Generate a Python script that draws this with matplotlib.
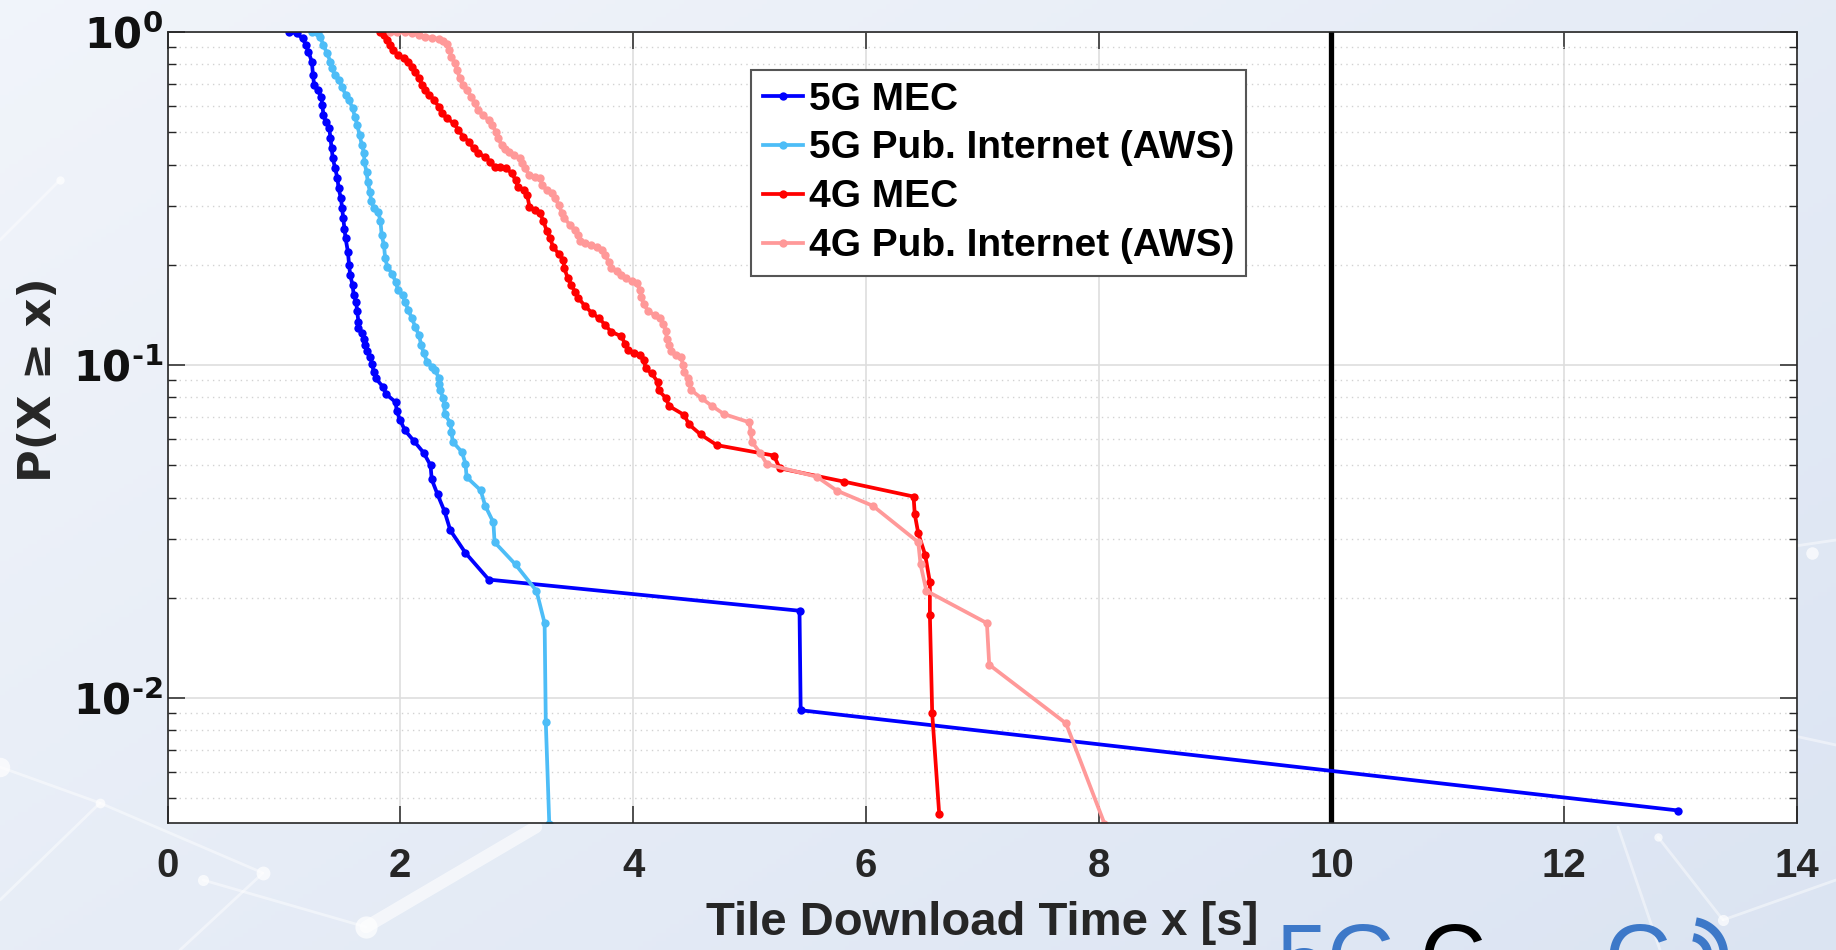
import numpy as np
import matplotlib
matplotlib.use("Agg")
import matplotlib.pyplot as plt
from matplotlib.ticker import FixedLocator, LogLocator, NullFormatter

# CCDF points: x = tile download time [s], p = P(X >= x)
MEC_5G_X = [1.04, 1.11, 1.16, 1.19, 1.21, 1.24, 1.25, 1.26, 1.29, 1.32, 1.33, 1.34,
            1.36, 1.39, 1.40, 1.41, 1.42, 1.44, 1.46, 1.47, 1.49, 1.50, 1.51, 1.52,
            1.53, 1.55, 1.56, 1.57, 1.59, 1.60, 1.62, 1.63, 1.64, 1.64, 1.67, 1.69,
            1.70, 1.71, 1.74, 1.76, 1.77, 1.79, 1.85, 1.88, 1.96, 1.97, 2.00, 2.04,
            2.12, 2.20, 2.26, 2.27, 2.32, 2.38, 2.43, 2.56, 2.76, 5.43, 5.44, 12.98]
MEC_5G_P = [1.0, 0.991, 0.957, 0.914, 0.873, 0.815, 0.743, 0.693, 0.670, 0.640, 0.604, 0.563,
            0.538, 0.514, 0.480, 0.448, 0.418, 0.390, 0.364, 0.339, 0.317, 0.296, 0.276, 0.257,
            0.240, 0.219, 0.200, 0.186, 0.174, 0.162, 0.155, 0.145, 0.135, 0.129, 0.125, 0.120,
            0.115, 0.110, 0.106, 0.1005, 0.0955, 0.0912, 0.0861, 0.0817, 0.0774, 0.0727, 0.0682,
            0.0637, 0.0590, 0.0546, 0.0500, 0.0454, 0.0409, 0.0364, 0.0319, 0.0273, 0.0227,
            0.0183, 0.0092, 0.0046]

PUB_5G_X = [1.24, 1.29, 1.31, 1.34, 1.37, 1.40, 1.41, 1.44, 1.47, 1.50, 1.53, 1.56,
            1.59, 1.61, 1.63, 1.65, 1.67, 1.69, 1.69, 1.71, 1.72, 1.74, 1.75, 1.77,
            1.81, 1.83, 1.84, 1.86, 1.87, 1.89, 1.93, 1.96, 1.98, 2.02, 2.04, 2.07,
            2.10, 2.13, 2.16, 2.18, 2.20, 2.23, 2.27, 2.30, 2.33, 2.33, 2.34, 2.37,
            2.38, 2.38, 2.43, 2.44, 2.45, 2.53, 2.56, 2.57, 2.69, 2.73, 2.80, 2.81,
            2.99, 3.17, 3.24, 3.25, 3.28]
PUB_5G_P = [1.0, 0.991, 0.968, 0.914, 0.863, 0.815, 0.778, 0.743, 0.718, 0.686, 0.647, 0.625,
            0.590, 0.557, 0.526, 0.491, 0.458, 0.432, 0.408, 0.381, 0.355, 0.331, 0.310, 0.297,
            0.289, 0.270, 0.246, 0.229, 0.209, 0.197, 0.188, 0.178, 0.168, 0.162, 0.155, 0.146,
            0.138, 0.130, 0.123, 0.115, 0.109, 0.1025, 0.0990, 0.0968, 0.0914, 0.0875, 0.0839,
            0.0798, 0.0757, 0.0714, 0.0671, 0.0630, 0.0589, 0.0548, 0.0506, 0.0461, 0.0421,
            0.0378, 0.0337, 0.0294, 0.0252, 0.0210, 0.0168, 0.0085, 0.0042]

MEC_4G_X = [1.83, 1.86, 1.89, 1.91, 1.94, 1.98, 2.03, 2.07, 2.10, 2.13, 2.16, 2.19,
            2.21, 2.25, 2.29, 2.33, 2.36, 2.40, 2.46, 2.50, 2.54, 2.59, 2.63, 2.67,
            2.73, 2.77, 2.81, 2.86, 2.91, 2.96, 2.99, 3.01, 3.06, 3.09, 3.11, 3.16,
            3.20, 3.23, 3.26, 3.29, 3.31, 3.36, 3.40, 3.41, 3.44, 3.47, 3.50, 3.53,
            3.59, 3.65, 3.71, 3.76, 3.81, 3.90, 3.93, 3.96, 4.01, 4.06, 4.09, 4.11,
            4.16, 4.21, 4.22, 4.28, 4.31, 4.44, 4.48, 4.58, 4.72, 5.21, 5.26, 5.81,
            6.41, 6.42, 6.45, 6.51, 6.55, 6.55, 6.57, 6.63]
MEC_4G_P = [1.0, 0.979, 0.946, 0.914, 0.883, 0.853, 0.834, 0.815, 0.787, 0.760, 0.726, 0.693,
            0.670, 0.647, 0.625, 0.597, 0.570, 0.551, 0.532, 0.508, 0.485, 0.468, 0.447, 0.432,
            0.422, 0.408, 0.394, 0.394, 0.390, 0.376, 0.359, 0.343, 0.335, 0.324, 0.299, 0.292,
            0.286, 0.270, 0.252, 0.240, 0.227, 0.216, 0.207, 0.195, 0.182, 0.174, 0.166, 0.159,
            0.150, 0.143, 0.138, 0.132, 0.126, 0.122, 0.116, 0.111, 0.109, 0.107, 0.1035, 0.0977,
            0.0944, 0.0892, 0.0839, 0.0798, 0.0753, 0.0708, 0.0664, 0.0619, 0.0575, 0.0535,
            0.0490, 0.0447, 0.0403, 0.0357, 0.0313, 0.0269, 0.0223, 0.0178, 0.0090, 0.0045]

PUB_4G_X = [1.91, 1.97, 2.04, 2.10, 2.16, 2.21, 2.27, 2.33, 2.37, 2.40, 2.42, 2.44,
            2.47, 2.49, 2.51, 2.54, 2.57, 2.61, 2.64, 2.67, 2.71, 2.76, 2.79, 2.82,
            2.84, 2.87, 2.90, 2.93, 2.98, 3.03, 3.05, 3.07, 3.11, 3.16, 3.20, 3.22,
            3.26, 3.30, 3.33, 3.36, 3.39, 3.41, 3.46, 3.50, 3.53, 3.54, 3.59, 3.64,
            3.69, 3.73, 3.76, 3.79, 3.81, 3.86, 3.90, 3.94, 3.99, 4.03, 4.06, 4.07,
            4.09, 4.13, 4.19, 4.23, 4.26, 4.28, 4.29, 4.31, 4.33, 4.37, 4.41, 4.43,
            4.44, 4.47, 4.48, 4.50, 4.59, 4.68, 4.78, 5.00, 5.01, 5.02, 5.09, 5.15,
            5.58, 5.75, 6.06, 6.45, 6.47, 6.52, 7.04, 7.06, 7.72, 8.05]
PUB_4G_P = [1.0, 0.998, 0.998, 0.991, 0.979, 0.968, 0.962, 0.953, 0.940, 0.918, 0.883, 0.843,
            0.805, 0.769, 0.726, 0.693, 0.670, 0.640, 0.611, 0.583, 0.563, 0.544, 0.526, 0.502,
            0.480, 0.458, 0.445, 0.437, 0.427, 0.418, 0.404, 0.390, 0.372, 0.368, 0.364, 0.347,
            0.335, 0.328, 0.317, 0.303, 0.286, 0.276, 0.263, 0.254, 0.246, 0.236, 0.232, 0.229,
            0.227, 0.222, 0.214, 0.204, 0.195, 0.191, 0.186, 0.182, 0.179, 0.176, 0.168, 0.160,
            0.153, 0.145, 0.141, 0.138, 0.133, 0.127, 0.120, 0.115, 0.110, 0.107, 0.106, 0.100,
            0.0956, 0.0912, 0.0881, 0.0841, 0.0794, 0.0753, 0.0713, 0.0673, 0.0631, 0.0589,
            0.0546, 0.0504, 0.0462, 0.0420, 0.0378, 0.0294, 0.0252, 0.0210, 0.0168, 0.0126,
            0.0084, 0.0042]

SERIES = [
    ("5G MEC", MEC_5G_X, MEC_5G_P, "#0000ff"),
    ("5G Pub. Internet (AWS)", PUB_5G_X, PUB_5G_P, "#4dbdf7"),
    ("4G MEC", MEC_4G_X, MEC_4G_P, "#ff0000"),
    ("4G Pub. Internet (AWS)", PUB_4G_X, PUB_4G_P, "#ff9999"),
]
DEADLINE = 10
X_TICKS = [0, 2, 4, 6, 8, 10, 12, 14]
Y_TICKS = [1e-2, 1e-1, 1e0]
Y_TICK_LABELS = ["$10^{\u2010 2}$", "$10^{\u2010 1}$", "$10^{0}$"]

W, H = 1836, 950
INK = "#262626"
LOGO_BLUE = "#3d78c8"

plt.rcParams["font.family"] = ["Liberation Sans", "DejaVu Sans"]
plt.rcParams["mathtext.fontset"] = "custom"
plt.rcParams["mathtext.rm"] = "DejaVu Sans:bold"
plt.rcParams["mathtext.it"] = "DejaVu Sans:bold"
plt.rcParams["mathtext.bf"] = "DejaVu Sans:bold"
plt.rcParams["mathtext.default"] = "rm"

fig = plt.figure(figsize=(W / 100, H / 100), dpi=100)

# slide background: soft blue gradient with a faint "network" pattern
bg = fig.add_axes([0, 0, 1, 1], zorder=-10)
gx, gy = np.meshgrid(np.linspace(0, 1, 400), np.linspace(0, 1, 220))
t = np.clip(0.55 * gx + 0.45 * gy, 0, 1)[..., None]
light = np.array([0.945, 0.958, 0.982])
dark = np.array([0.860, 0.895, 0.950])
bg.imshow(light + (dark - light) * t, extent=[0, W, H, 0], aspect="auto")
bg.set_xlim(0, W)
bg.set_ylim(H, 0)
bg.axis("off")
net = [((0, 767), (100, 803)), ((100, 803), (263, 873)), ((203, 880), (366, 927)),
       ((100, 803), (0, 900)), ((263, 873), (180, 950)), ((1700, 560), (1836, 540)),
       ((1790, 735), (1836, 745)), ((1618, 827), (1660, 950)), ((1658, 837), (1723, 920)),
       ((1723, 920), (1836, 880)), ((0, 240), (60, 180))]
for (x0, y0), (x1, y1) in net:
    bg.plot([x0, x1], [y0, y1], color="white", lw=2, alpha=0.45, solid_capstyle="round")
bg.plot([366, 536], [927, 827], color="white", lw=9, alpha=0.6, solid_capstyle="round")
for cx, cy, r in [(0, 767, 14), (100, 803, 7), (203, 880, 8), (263, 873, 10), (366, 927, 16),
                  (1658, 837, 6), (1723, 920, 8), (1812, 553, 9), (60, 180, 6)]:
    bg.scatter([cx], [cy], s=r ** 2, color="white", alpha=0.7, lw=0)

# project logo, cut off by the bottom edge of the slide
logo_kw = dict(fontsize=66, va="top", ha="left", family="Liberation Sans")
bg.text(1276, 922, "5G", color=LOGO_BLUE, **logo_kw)
bg.text(1419, 922, "C", color="black", **logo_kw)
bg.text(1604, 922, "C", color=LOGO_BLUE, **logo_kw)
for r in (18, 34):
    th = np.linspace(np.radians(-5), np.radians(80), 40)
    bg.plot(1690 + r * np.cos(th), 955 - r * np.sin(th), color=LOGO_BLUE, lw=6,
            solid_capstyle="butt")

ax = fig.add_axes([167.5 / W, 1 - 823 / H, 1629.5 / W, 791 / H])
ax.set_facecolor("white")
for name, xs, ps, col in SERIES:
    ax.plot(xs, ps, "-o", color=col, lw=2.7, ms=6, mew=0, label=name)
ax.axvline(DEADLINE, color="black", lw=3.8, zorder=1.5)

ax.set_yscale("log")
ax.set_xlim(0, 14)
ax.set_ylim(1 / 237, 1.0)
ax.xaxis.set_major_locator(FixedLocator(X_TICKS))
ax.set_xticklabels([str(v) for v in X_TICKS])
ax.yaxis.set_major_locator(FixedLocator(Y_TICKS))
ax.set_yticklabels(Y_TICK_LABELS)
ax.yaxis.set_minor_locator(LogLocator(base=10, subs=np.arange(2, 10)))
ax.yaxis.set_minor_formatter(NullFormatter())

ax.set_axisbelow(True)
ax.grid(True, which="major", color="#dedede", lw=1.2, ls="-")
ax.grid(True, which="minor", axis="y", color="#d2d2d2", lw=1.0, ls=(0, (1, 3)))
for s in ax.spines.values():
    s.set_color(INK)
    s.set_linewidth(1.2)

ax.tick_params(which="both", direction="in", top=True, right=True, color=INK)
ax.tick_params(which="major", length=12, width=1.1)
ax.tick_params(which="minor", length=6, width=1.0)
ax.tick_params(axis="x", pad=17, labelsize=29, labelcolor=INK)
ax.tick_params(axis="y", pad=3, labelsize=30, labelcolor="#111111")
for lab in ax.get_xticklabels():
    lab.set_fontweight("bold")

ax.set_xlabel("Tile Download Time x [s]", fontsize=34, fontweight="bold", color=INK)
ax.xaxis.set_label_coords(0.5, -0.098)
ax.set_ylabel("P(X \u2265 x)", fontsize=32, fontweight="bold", color=INK,
              family="DejaVu Sans")
ax.yaxis.set_label_coords(-0.066, 0.56)

leg = ax.legend(loc="upper left", bbox_to_anchor=(0.358, 0.952), borderaxespad=0,
                prop=dict(family="Liberation Sans", weight="bold", size=28),
                handlelength=1.05, handletextpad=0.15, borderpad=0.3, labelspacing=0.33,
                numpoints=1, frameon=True, fancybox=False, framealpha=1)
leg.get_frame().set_edgecolor("#555555")
leg.get_frame().set_linewidth(1.5)

fig.savefig("out.png", dpi=100, facecolor=fig.get_facecolor())
